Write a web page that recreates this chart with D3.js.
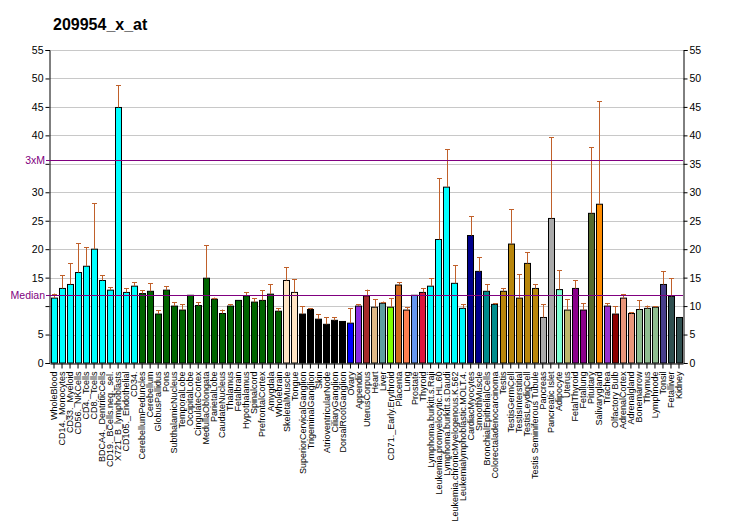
<!DOCTYPE html>
<html><head><meta charset="utf-8">
<script src="https://cdn.jsdelivr.net/npm/d3@7"></script>
<style>body{margin:0;background:#fff}svg{display:block}text{font-family:"Liberation Sans",Arial,sans-serif}</style>
</head><body><svg id="c" width="732" height="530"></svg>
<script>
const title = "209954_x_at";
const categories = ["WholeBlood","CD14._Monocytes","CD33._Myeloid","CD56._NKCells","CD4._Tcells","CD8._Tcells","BDCA4._DentriticCells","CD19._BCells.neg._sel.","X721_B_lymphoblasts","CD105._Endothelial","CD34.","CerebellumPeduncles","Cerebellum","GlobusPallidus","Pons","SubthalamicNucleus","TemporalLobe","OccipitalLobe","CingulateCortex","MedullaOblongata","ParietalLobe","CaudateNucleus","Thalamus","Fetalbrain","Hypothalamus","Spinalcord","PrefrontalCortex","Amygdala","Wholebrain","SkeletalMuscle","Tongue","SuperiorCervicalGanglion","TrigeminalGanglion","Skin","AtrioventricularNode","CiliaryGanglion","DorsalRootGanglion","Ovary","Appendix","UterusCorpus","Heart","Liver","CD71._Early.Erythroid","Placenta","Lung","Prostate","Thyroid","Lymphoma.burkitt.s.Raji","Leukemia.promyelocytic.HL.60","Lymphoma.burkitt.s.Daudi","Leukemia.chronicMyelogenous.K.562","Leukemialymphoblastic.MOLT.4.","CardiacMyocytes","SmoothMuscle","BronchialEpithelialCells","Colorectaladenocarcinoma","Testis","TestisGermCell","TestisInterstitial","TestisLeydigCell","Testis Seminiferous Tubule","Pancreas","Pancreatic Islet","Adipocyte","Uterus","FetalThyroid","Fetallung","Pituitary","Salivarygland","Trachea","Olfactory Bulb","AdrenalCortex","Adrenalgland","Bonemarrow","Thymus","Lymphnode","Tonsil","Fetalliver","Kidney"];
const values = [11.4,13.1,13.8,15.9,17.0,20.0,14.5,12.8,44.9,12.4,13.5,12.2,12.6,8.6,12.8,10.0,9.3,11.9,10.1,14.9,11.2,8.7,10.0,11.0,11.8,10.7,11.0,12.1,9.1,14.5,12.4,8.6,9.4,7.7,6.8,7.5,7.3,7.0,10.0,11.8,9.8,10.5,9.8,13.7,9.3,11.9,12.4,13.5,21.7,30.9,14.0,9.6,22.4,16.1,12.6,10.3,12.6,20.9,11.4,17.5,13.1,8.0,25.4,12.9,9.3,13.1,9.3,26.3,27.9,10.0,8.6,11.4,8.7,9.4,9.6,9.8,13.8,11.7,8.0];
const errTops = [12.2,15.4,17.5,21.0,20.3,28.1,15.4,13.3,48.8,13.1,14.2,12.8,14.0,9.3,13.5,10.7,10.3,11.9,10.7,20.7,11.5,9.4,10.3,11.0,12.4,11.4,12.8,13.8,9.6,16.8,14.7,10.0,9.6,8.6,8.0,8.0,7.3,9.6,10.3,12.9,11.2,10.8,11.4,14.2,9.8,11.9,13.1,14.9,32.5,37.6,17.2,10.3,25.8,18.6,13.8,10.5,13.1,27.0,15.6,19.5,13.8,10.3,39.7,16.3,11.2,14.5,10.5,37.9,46.0,10.5,10.0,12.1,8.9,11.0,10.1,10.0,16.1,14.9,8.0];
const colors = ["#00FFFF","#00FFFF","#00FFFF","#00FFFF","#00FFFF","#00FFFF","#00FFFF","#00FFFF","#00FFFF","#00FFFF","#00FFFF",
"#006400","#006400","#006400","#006400","#006400","#006400","#006400","#006400","#006400","#006400","#006400","#006400","#006400","#006400","#006400","#006400","#006400","#006400",
"#FFE4C4","#FFE4C4","#000000","#000000","#000000","#000000","#000000","#000000",
"#0000FF","#8A2BE2","#A52A2A","#DEB887","#5F9EA0","#7FFF00","#D2691E","#FF7F50","#6495ED","#DC143C",
"#00FFFF","#00FFFF","#00FFFF","#00FFFF","#00FFFF","#00008B","#00008B","#008B8B","#008B8B",
"#B8860B","#B8860B","#B8860B","#B8860B","#B8860B","#A9A9A9","#A9A9A9","#7FFFD4","#BDB76B","#8B008B","#8B008B","#556B2F","#FF8C00","#9932CC","#8B0000","#E9967A","#E9967A","#8FBC8F","#8FBC8F","#8FBC8F","#483D8B","#2F4F4F","#2F4F4F"];
const yTicks = [0,5,10,15,20,25,30,35,40,45,50,55];
const leftHidden = [10, 35];
const median = 11.9;
const threeXM = 35.7;

const svg = d3.select("#c");
const L = 50, R = 683, T = 50, B = 363;
const x = d3.scaleBand().domain(categories).range([L, R]).paddingInner(0.2).paddingOuter(0.1);
const y = d3.scaleLinear().domain([0, 55]).range([B, T]);

svg.append("text").attr("x", 53).attr("y", 30).attr("font-size", 16).attr("font-weight", "bold").text(title);

// gridlines
svg.append("g").selectAll("line").data(yTicks.filter(d => d > 0)).join("line")
  .attr("x1", L).attr("x2", R).attr("y1", d => Math.round(y(d)) + 0.5).attr("y2", d => Math.round(y(d)) + 0.5)
  .attr("stroke", "#C8C8C8").attr("stroke-width", 1);

// axes
const la = svg.append("g").attr("transform", `translate(${L - 0.5},0)`).call(d3.axisLeft(y).tickValues(yTicks).tickSize(4).tickFormat(d => leftHidden.includes(d) ? "" : d));
const ra = svg.append("g").attr("transform", `translate(${R + 0.5},0)`).call(d3.axisRight(y).tickValues(yTicks).tickSize(4).tickFormat(d => d));
[la, ra].forEach(g => { g.select(".domain").attr("stroke", "#000"); g.selectAll("text").attr("font-size", 10.5).attr("font-family", '"Liberation Sans",Arial,sans-serif').attr("fill", "#000"); });
la.selectAll(".tick text").attr("x", -6);
ra.selectAll(".tick text").attr("x", 6);

// bars
svg.append("g").selectAll("rect").data(categories).join("rect")
  .attr("x", d => Math.round(x(d)) + 0.5).attr("width", Math.round(x.bandwidth()))
  .attr("y", (d, i) => y(values[i])).attr("height", (d, i) => B - y(values[i]))
  .attr("fill", (d, i) => colors[i]).attr("stroke", "#000").attr("stroke-width", 1);

// error bars
const eg = svg.append("g").attr("stroke", "#C0602A").attr("stroke-width", 1);
categories.forEach((c, i) => {
  if (errTops[i] <= values[i]) return;
  const cx = Math.round(x(c) + x.bandwidth() / 2) + 0.5;
  eg.append("line").attr("x1", cx).attr("x2", cx).attr("y1", y(values[i])).attr("y2", y(errTops[i]));
  eg.append("line").attr("x1", cx - 2.5).attr("x2", cx + 2.5).attr("y1", Math.round(y(errTops[i])) + 0.5).attr("y2", Math.round(y(errTops[i])) + 0.5);
});

// x axis
const xa = svg.append("g").attr("transform", `translate(0,${B + 0.5})`).call(d3.axisBottom(x).tickSize(5).tickSizeOuter(0));
xa.select(".domain").attr("stroke", "#000");
xa.selectAll(".tick line").attr("stroke", "#000");
xa.selectAll(".tick text").attr("font-size", 9).attr("font-family", '"Liberation Sans",Arial,sans-serif').attr("fill", "#000")
  .attr("transform", "rotate(-90)").attr("text-anchor", "end").attr("x", -8).attr("y", 0).attr("dy", "0.35em");

// median lines
const purple = "#800080";
[[median, "Median"], [threeXM, "3xM"]].forEach(([v, lab]) => {
  svg.append("line").attr("x1", L - 4).attr("x2", R).attr("y1", Math.round(y(v)) + 0.5).attr("y2", Math.round(y(v)) + 0.5).attr("stroke", purple).attr("stroke-width", 1);
  svg.append("text").attr("x", L - 5).attr("y", y(v)).attr("dy", "0.35em").attr("text-anchor", "end").attr("font-size", 10.5).attr("fill", purple).text(lab);
});
</script></body></html>
